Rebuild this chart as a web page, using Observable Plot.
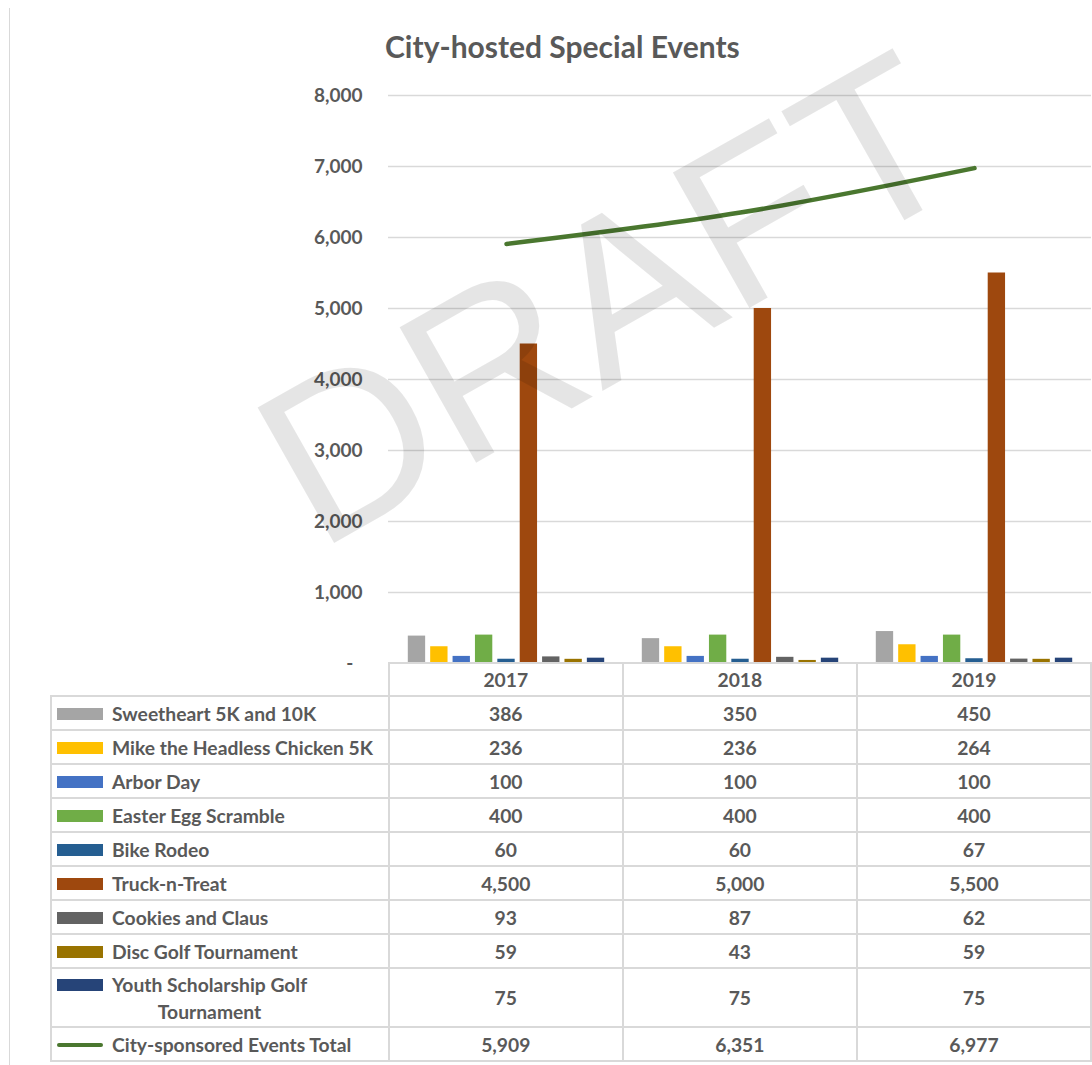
<!DOCTYPE html>
<html><head><meta charset="utf-8">
<script src="https://cdn.jsdelivr.net/npm/d3@7"></script>
<script src="https://cdn.jsdelivr.net/npm/@observablehq/plot@0.6"></script>
<style>
  html,body{margin:0;padding:0;background:#fff;}
  #wrap{position:relative;width:1092px;height:1065px;overflow:hidden;font-family:Lato,"Open Sans",sans-serif;color:#595959;}
  #frame{position:absolute;left:9px;top:8px;width:0;height:1060px;border-left:1.5px solid #d9d9d9;}
  #title{position:absolute;left:385px;top:31px;font-size:30px;font-weight:700;line-height:30px;white-space:nowrap;}
  #chart{position:absolute;left:0;top:0;}
  #tbl{position:absolute;left:50px;top:662px;border-collapse:collapse;font-size:19.3px;font-weight:700;table-layout:fixed;}
  #tbl td{border:2px solid #d9d9d9;padding:0;text-align:center;height:32px;}
  #tbl td.lab{text-align:left;}
  #tbl tr.head td.blank{border:none;border-bottom:2px solid #d9d9d9;border-right:2px solid #d9d9d9;}
  .labin{display:flex;align-items:flex-start;padding-left:5px;}
  .key{display:inline-block;width:46px;height:12px;margin-right:9px;flex:none;}
  .key.line{height:4px;border-radius:2px;}
  .ltxt{display:inline-block;text-align:center;line-height:27px;}
  #wm{position:absolute;left:0;top:0;pointer-events:none;}
</style>
</head><body>
<div id="wrap">
  <div id="frame"></div>
  <div id="title">City-hosted Special Events</div>
  <div id="chart"></div>
  <table id="tbl"></table>
  <svg id="wm" width="1092" height="1065"></svg>
</div>
<script>
// ---- data ----
const years = ["2017", "2018", "2019"];
const seriesNames = [
  "Sweetheart 5K and 10K",
  "Mike the Headless Chicken 5K",
  "Arbor Day",
  "Easter Egg Scramble",
  "Bike Rodeo",
  "Truck-n-Treat",
  "Cookies and Claus",
  "Disc Golf Tournament",
  "Youth Scholarship Golf Tournament"
];
const seriesColors = ["#A5A5A5", "#FFC000", "#4472C4", "#70AD47", "#255E91", "#9E480E", "#636363", "#997300", "#264478"];
const sweetheart = [386, 350, 450];
const mikeChicken = [236, 236, 264];
const arborDay = [100, 100, 100];
const easterEgg = [400, 400, 400];
const bikeRodeo = [60, 60, 67];
const truckNTreat = [4500, 5000, 5500];
const cookiesClaus = [93, 87, 62];
const discGolf = [59, 43, 59];
const youthGolf = [75, 75, 75];
const totalName = "City-sponsored Events Total";
const totals = [5909, 6351, 6977];
const totalColor = "#4A772F";
const yTicks = [0, 1000, 2000, 3000, 4000, 5000, 6000, 7000, 8000];

const seriesValues = [sweetheart, mikeChicken, arborDay, easterEgg, bikeRodeo, truckNTreat, cookiesClaus, discGolf, youthGolf];
const rows = [];
seriesNames.forEach((s, i) => years.forEach((y, j) => rows.push({year: y, series: s, value: seriesValues[i][j]})));
const totalRows = years.map((y, j) => ({year: y, total: totals[j]}));

// ---- chart ----
const W = 1092, mL = 388, mR = 1;
const bw = (W - mL - mR) / years.length;
const inner = d3.scaleBand().domain(seriesNames).range([0, bw]).paddingInner(0.21).paddingOuter(0.84);
const fmt = d3.format(",");

const barMarks = seriesNames.map((s, i) => Plot.barY(rows.filter(d => d.series === s), {
  x: "year", y: "value", fill: seriesColors[i],
  insetLeft: inner(s), insetRight: bw - inner(s) - inner.bandwidth()
}));

const chart = Plot.plot({
  width: W, height: 680,
  marginLeft: mL, marginRight: mR, marginTop: 95, marginBottom: 17,
  style: {fontFamily: "Lato, 'Open Sans', sans-serif", fontSize: "19px", fontWeight: "700", color: "#595959", background: "transparent"},
  x: {domain: years, padding: 0, axis: null},
  y: {domain: [0, 8000], axis: null},
  marks: [
    Plot.ruleY(yTicks.filter(d => d > 0), {stroke: "#d9d9d9", strokeWidth: 1.5}),
    Plot.axisY({ticks: yTicks, tickSize: 0, tickPadding: 26, tickFormat: d => d === 0 ? "-\u00a0\u00a0" : fmt(d)}),
    ...barMarks,
    Plot.line(totalRows, {x: "year", y: "total", stroke: totalColor, strokeWidth: 4.5, curve: "catmull-rom", strokeLinecap: "round"})
  ]
});
document.getElementById("chart").appendChild(chart);

// ---- data table ----
const tbl = d3.select("#tbl");
const cg = tbl.append("colgroup");
cg.append("col").style("width", (mL - 50) + "px");
years.forEach(() => cg.append("col").style("width", bw + "px"));
const head = tbl.append("tr").attr("class", "head");
head.append("td").attr("class", "blank");
years.forEach(y => head.append("td").style("height", "31px").text(y));
seriesNames.forEach((s, i) => {
  const tr = tbl.append("tr");
  const td = tr.append("td").attr("class", "lab");
  const li = td.append("div").attr("class", "labin");
  const isYouth = s.startsWith("Youth");
  li.append("span").attr("class", "key").style("background", seriesColors[i]).style("margin-top", "8px");
  const t = li.append("span").attr("class", "ltxt");
  if (isYouth) { t.html("Youth Scholarship Golf<br>Tournament"); tr.selectAll("td").style("height", "57px"); }
  else t.text(s);
  seriesValues[i].forEach(v => tr.append("td").style("height", isYouth ? "57px" : "32px").text(fmt(v)));
});
{
  const tr = tbl.append("tr");
  const li = tr.append("td").attr("class", "lab").append("div").attr("class", "labin");
  li.append("span").attr("class", "key line").style("background", totalColor).style("margin-top", "12px");
  li.append("span").attr("class", "ltxt").text(totalName);
  totals.forEach(v => tr.append("td").text(fmt(v)));
}

// ---- DRAFT watermark ----
d3.select("#wm").append("text")
  .attr("transform", "translate(318,552) rotate(-29.5)")
  .attr("font-family", "'Liberation Sans', Arial, sans-serif")
  .attr("font-size", 226)
  .attr("fill", "#000")
  .attr("fill-opacity", 0.1)
  .text("DRAFT");
</script>
</body></html>
